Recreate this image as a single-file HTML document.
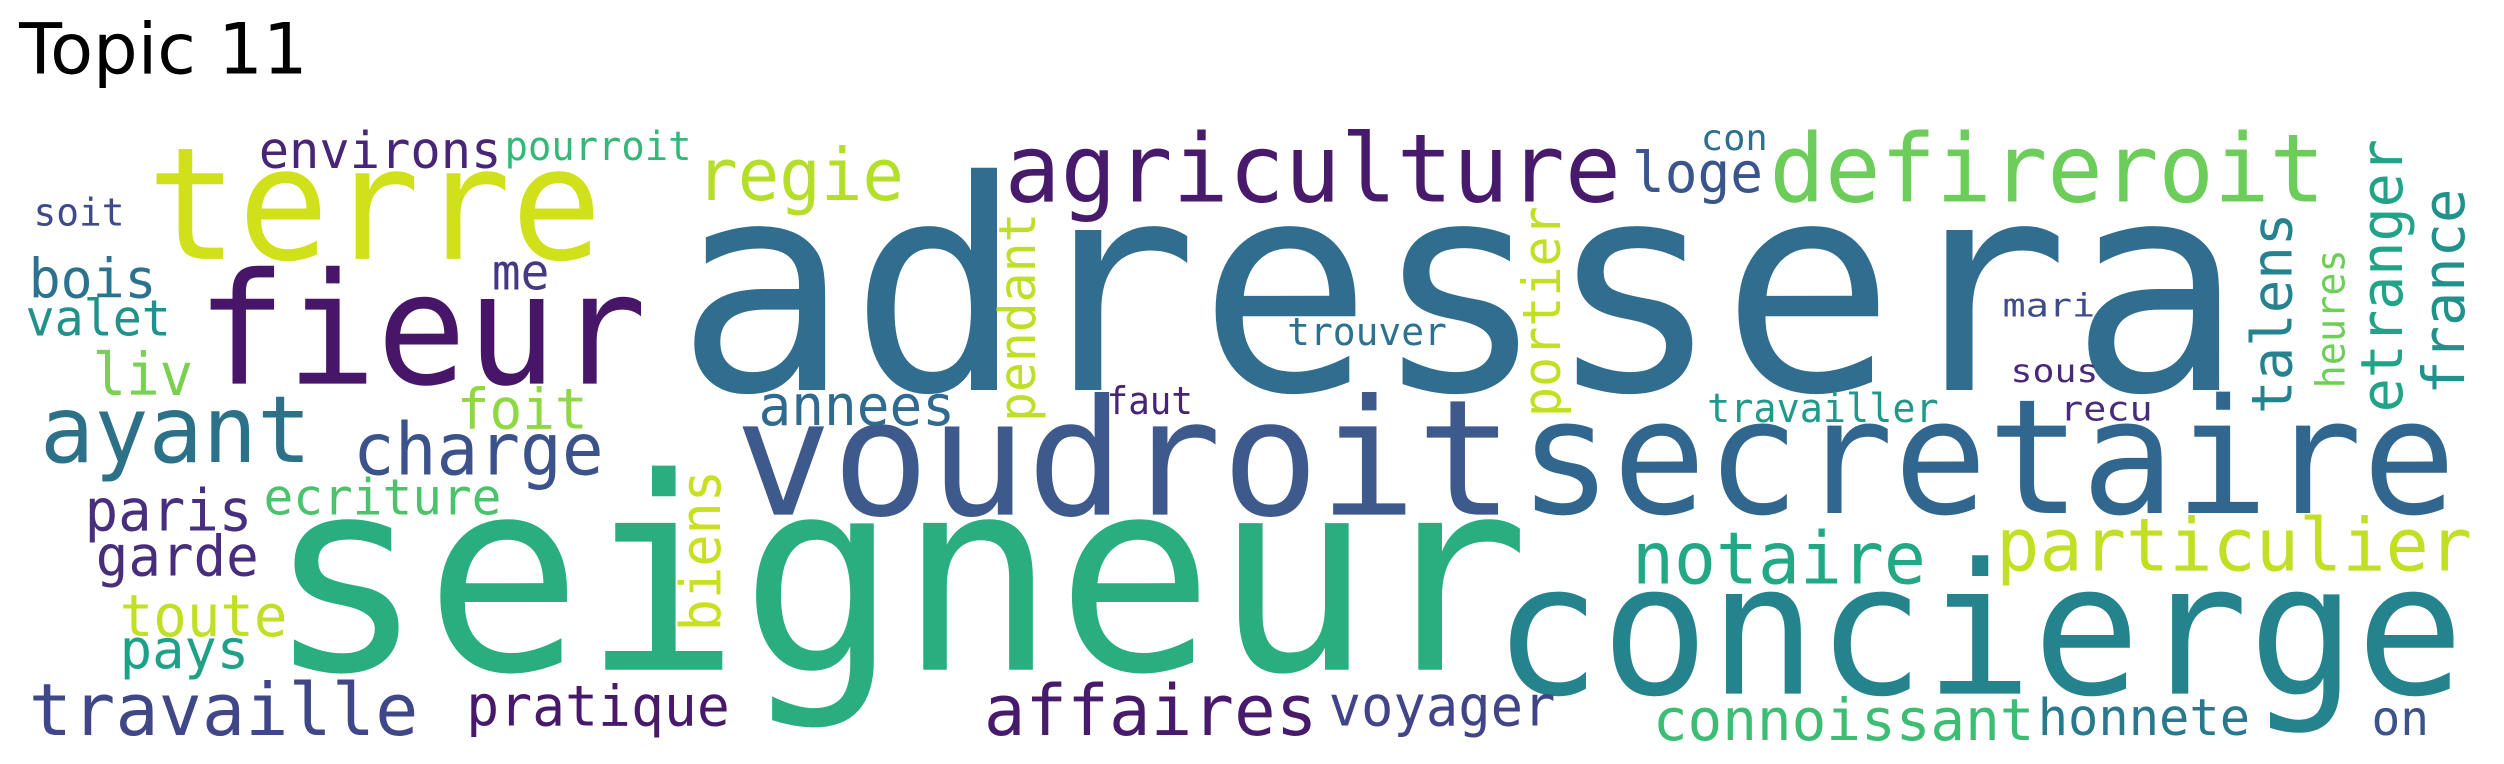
<!DOCTYPE html>
<html><head><meta charset="utf-8"><style>
html,body{margin:0;padding:0;background:#fff;}
svg{display:block;}
text{font-family:"DejaVu Sans Mono","Liberation Mono",monospace;}
</style></head><body>
<svg id="cloud" width="2504" height="764" viewBox="0 0 1568 478" preserveAspectRatio="none" xmlns="http://www.w3.org/2000/svg">
<text x="12" y="46" font-size="44" style="font-family:'DejaVu Sans','Liberation Sans',sans-serif" fill="#000">Topic 11</text>
</svg>
<script>
const words = ["adressera","seigneur","voudroit","secretaire","concierge","fieur","terre","agriculture","defireroit","ayant","regie","charge","environs","pourroit","soit","bois","valet","me","liv","foit","annees","faut","paris","ecriture","garde","toute","pays","travaille","pratique","affaires","voyager","connoissant","honnete","on","notaire","particulier","loge","con","trouver","travailler","mari","sous","recu","pendant","biens","portier","talens","heures","etranger","france"];
const fontSizes = [183,168,101,100,114,97,98,59,59,58,45,45,32,25,24,34,31,31,37,35,35,24,36,31,35,36,34,45,35,44,35,36,32,30,45,46,35,22,24,25,20,20,21,32,35,33,35,25,36,36];
const xStart = [423,167,460,951,935,123,92,629,1108,25,436,221,162,316,21,18,16,308,58,286,475,693,53,165,60,75,75,18,292,616,832,1035,1276,1485,1022,1250,1022,1065,806,1069,1254,1259,1290,648,451,977,1435,1468,1504,1543];
const yBase = [244,419,322,321,434,240,162,126,126,289,125,297,105,100,141,186,210,181,247,268,266,259,332,322,360,398,418,460,454,460,454,463,460,460,365,357,120,94,216,264,198,239,263,264,395,261,259,243,258,247];
const textLen = [982,791,488,587,608,282,285,386,348,170,130,157,152,117,57,80,91,36,63,82,123,54,105,149,102,105,81,244,165,209,142,239,133,36,184,298,82,42,100,145,58,55,58,131,101,132,126,87,171,129];
const vertical = [0,0,0,0,0,0,0,0,0,0,0,0,0,0,0,0,0,0,0,0,0,0,0,0,0,0,0,0,0,0,0,0,0,0,0,0,0,0,0,0,0,0,0,1,1,1,1,1,1,1];
const colors = ["#306d8e","#2aae80","#3e5a8c","#31678e","#25838e","#481668","#d0e11c","#481a6c","#6ccd5a","#2d7189","#b5de2b","#3b528b","#482576","#35b779","#3e4a89","#2c728e","#21918c","#443983","#7ad151","#8fd744","#306a8e","#482475","#472f7d","#4cc26c","#472d7b","#c0df25","#1fa187","#3f4788","#48186a","#481a6c","#414487","#3dbc74","#2a788e","#3b528b","#22a884","#c2df23","#3a548c","#2e6f8e","#2c728e","#1f9a8a","#3e4c8a","#482878","#472c7b","#bddf26","#c8e020","#c2df23","#26828e","#6ece58","#20a386","#21918c"];
const svg = document.getElementById('cloud');
const NS = 'http://www.w3.org/2000/svg';
for (let i = 0; i < words.length; i++) {
  const t = document.createElementNS(NS, 'text');
  
  
  t.setAttribute('font-size', fontSizes[i]);
  t.setAttribute('fill', colors[i]);
  t.setAttribute('textLength', textLen[i]);
  t.setAttribute('lengthAdjust', 'spacingAndGlyphs');
  if (vertical[i]) {
    t.setAttribute('x', 0);
    t.setAttribute('y', 0);
    t.setAttribute('transform', 'translate(' + xStart[i] + ',' + yBase[i] + ') rotate(-90)');
  } else {
    t.setAttribute('x', xStart[i]);
    t.setAttribute('y', yBase[i]);
  }
  t.textContent = words[i];
  svg.appendChild(t);
}
</script>
</body></html>
